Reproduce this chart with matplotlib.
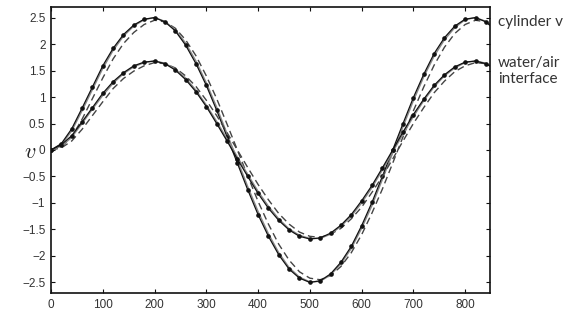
import matplotlib
matplotlib.use("Agg")
import matplotlib.pyplot as plt

plt.rcParams['mathtext.fontset'] = 'cm'

x = list(range(0, 861, 20))

cyl_solid = [0.00, 0.12, 0.40, 0.79, 1.19, 1.59, 1.92, 2.18, 2.36, 2.47, 2.50, 2.42, 2.25, 1.98, 1.63,
             1.22, 0.75, 0.25, -0.25, -0.75, -1.22, -1.63, -1.98, -2.25, -2.42, -2.50, -2.47, -2.34,
             -2.12, -1.82, -1.43, -0.99, -0.50, 0.00, 0.50, 0.99, 1.43, 1.82, 2.12, 2.34, 2.47, 2.50,
             2.42, 2.25]
cyl_gray = [0.00, 0.10, 0.36, 0.74, 1.14, 1.54, 1.88, 2.15, 2.34, 2.46, 2.50, 2.43, 2.27, 2.02, 1.68,
            1.27, 0.81, 0.31, -0.19, -0.69, -1.16, -1.58, -1.94, -2.22, -2.40, -2.49, -2.48, -2.36,
            -2.15, -1.86, -1.48, -1.05, -0.56, -0.06, 0.44, 0.93, 1.38, 1.77, 2.08, 2.31, 2.46, 2.50,
            2.43, 2.27]
cyl_dash = [0.00, 0.06, 0.25, 0.58, 0.97, 1.36, 1.72, 2.01, 2.22, 2.37, 2.45, 2.42, 2.30, 2.08, 1.78,
            1.40, 0.97, 0.49, 0.00, -0.49, -0.97, -1.40, -1.78, -2.08, -2.30, -2.42, -2.45, -2.37,
            -2.20, -1.94, -1.60, -1.19, -0.74, -0.25, 0.25, 0.74, 1.19, 1.60, 1.94, 2.20, 2.37, 2.45,
            2.42, 2.30]

wat_solid = [0.00, 0.10, 0.27, 0.53, 0.80, 1.07, 1.29, 1.46, 1.59, 1.66, 1.68, 1.63, 1.51, 1.33, 1.10,
             0.82, 0.50, 0.17, -0.17, -0.50, -0.82, -1.10, -1.33, -1.51, -1.63, -1.68, -1.66, -1.57,
             -1.42, -1.22, -0.96, -0.67, -0.34, 0.00, 0.34, 0.67, 0.96, 1.22, 1.42, 1.57, 1.66, 1.68,
             1.63, 1.51]
wat_gray = [0.00, 0.07, 0.24, 0.50, 0.77, 1.03, 1.26, 1.44, 1.57, 1.65, 1.68, 1.64, 1.53, 1.36, 1.13,
            0.85, 0.54, 0.21, -0.13, -0.46, -0.78, -1.06, -1.30, -1.49, -1.61, -1.67, -1.67, -1.59,
            -1.44, -1.25, -1.00, -0.71, -0.38, -0.04, 0.30, 0.63, 0.93, 1.19, 1.40, 1.55, 1.65, 1.68,
            1.64, 1.53]
wat_dash = [0.00, 0.04, 0.17, 0.39, 0.65, 0.91, 1.16, 1.35, 1.49, 1.59, 1.65, 1.63, 1.55, 1.40, 1.20,
            0.94, 0.65, 0.33, 0.00, -0.33, -0.65, -0.94, -1.20, -1.40, -1.55, -1.63, -1.65, -1.59,
            -1.48, -1.30, -1.08, -0.80, -0.50, -0.17, 0.17, 0.50, 0.80, 1.08, 1.30, 1.48, 1.59, 1.65,
            1.63, 1.55]

xticks = [0, 100, 200, 300, 400, 500, 600, 700, 800]
yticks = [-2.5, -2, -1.5, -1, -0.5, 0, 0.5, 1, 1.5, 2, 2.5]
ytick_labels = ['\u22122.5', '\u22122', '\u22121.5', '\u22121', '\u22120.5', '0', '0.5', '1', '1.5', '2', '2.5']
labels_right = ['cylinder v', 'water/air\ninterface']

fig = plt.figure(figsize=(5.63, 3.23), dpi=100)
ax = fig.add_axes([51/563, 1-293/323, (490-51)/563, (293-7)/323])

for solid, gray, dash in [(cyl_solid, cyl_gray, cyl_dash), (wat_solid, wat_gray, wat_dash)]:
    ax.plot(x, dash, color='#444444', lw=1.0, ls=(0, (5, 3)))
    ax.plot(x, gray, color='#8a8a8a', lw=1.0)
    ax.plot(x, solid, color='#111111', lw=0.9, marker='o', ms=2.3, mfc='#111111', mec='#111111')

ax.set_xlim(0, 848)
ax.set_ylim(-2.7, 2.7)
ax.set_xticks(xticks)
ax.set_xticklabels([str(t) for t in xticks])
ax.set_yticks(yticks)
ax.set_yticklabels(ytick_labels)
ax.tick_params(direction='in', length=3, width=0.8, top=True, right=True,
               labelsize=8.5, colors='#111111', pad=4)
for lab in ax.get_xticklabels() + ax.get_yticklabels():
    lab.set_family('Liberation Sans')
    lab.set_color('#333333')
for s in ax.spines.values():
    s.set_linewidth(1.2)
    s.set_color('#111111')

fig.text(30/563, 1-152/323, '$v$', fontsize=16, ha='center', va='center', color='#222222')
fig.text(498/563, 1-22/323, labels_right[0], fontsize=11, family='Lato', color='#333333',
         ha='left', va='center')
fig.text(498/563, 1-71/323, labels_right[1], fontsize=11, family='Lato', color='#333333',
         ha='left', va='center', linespacing=1.2)

fig.savefig('out.png', dpi=100)
